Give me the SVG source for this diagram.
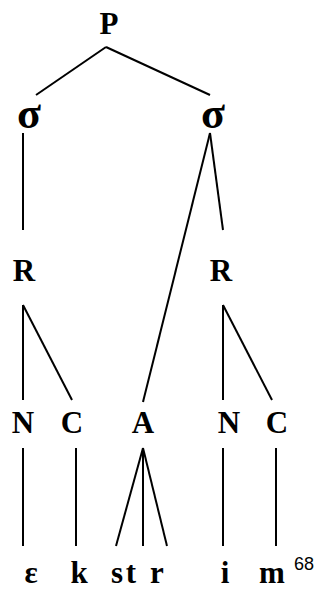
<svg xmlns="http://www.w3.org/2000/svg" width="320" height="590" viewBox="0 0 320 590">
<style>
.t{font-family:"Liberation Serif","Times New Roman",serif;font-weight:bold;font-size:31px;fill:#000;text-anchor:middle}
.s{font-size:44px}
.n{font-family:"Liberation Sans",Arial,sans-serif;font-size:18px;fill:#000}
.c line{stroke:#000;stroke-width:2}
</style>
<rect width="320" height="590" fill="#fff"/>
<g class="c" id="connectors">
<line x1="106" y1="47" x2="36" y2="95"/>
<line x1="106" y1="47" x2="210" y2="95"/>
<line x1="23" y1="133" x2="23" y2="230"/>
<line x1="210" y1="133" x2="223" y2="230"/>
<line x1="210" y1="133" x2="143" y2="402"/>
<line x1="23" y1="305" x2="23" y2="400"/>
<line x1="23" y1="305" x2="72" y2="400"/>
<line x1="223" y1="305" x2="223" y2="400"/>
<line x1="223" y1="305" x2="272" y2="400"/>
<line x1="23" y1="448" x2="23" y2="546"/>
<line x1="76" y1="448" x2="76" y2="546"/>
<line x1="143" y1="448" x2="116" y2="546"/>
<line x1="143" y1="448" x2="143" y2="546"/>
<line x1="143" y1="448" x2="167" y2="546"/>
<line x1="223" y1="448" x2="223" y2="546"/>
<line x1="276" y1="448" x2="276" y2="546"/>
</g>
<g id="P"><text class="t" x="109" y="34">P</text></g>
<g id="sigma1"><text class="t s" x="29" y="128">σ</text></g>
<g id="sigma2"><text class="t s" x="213" y="128">σ</text></g>
<g id="R1"><text class="t" x="24" y="281">R</text></g>
<g id="R2"><text class="t" x="221" y="281">R</text></g>
<g id="N1"><text class="t" x="23" y="433">N</text></g>
<g id="C1"><text class="t" x="72" y="433">C</text></g>
<g id="A"><text class="t" x="143" y="433">A</text></g>
<g id="N2"><text class="t" x="229" y="433">N</text></g>
<g id="C2"><text class="t" x="277" y="433">C</text></g>
<g id="e"><text class="t" x="31" y="583">ε</text></g>
<g id="k"><text class="t" x="79" y="583">k</text></g>
<g id="s"><text class="t" x="117" y="583">s</text></g>
<g id="tt"><text class="t" x="131" y="583">t</text></g>
<g id="r"><text class="t" x="157" y="583">r</text></g>
<g id="i"><text class="t" x="225" y="583">i</text></g>
<g id="m"><text class="t" x="272" y="583">m</text></g>
<text class="n" x="294" y="570">68</text>
</svg>
